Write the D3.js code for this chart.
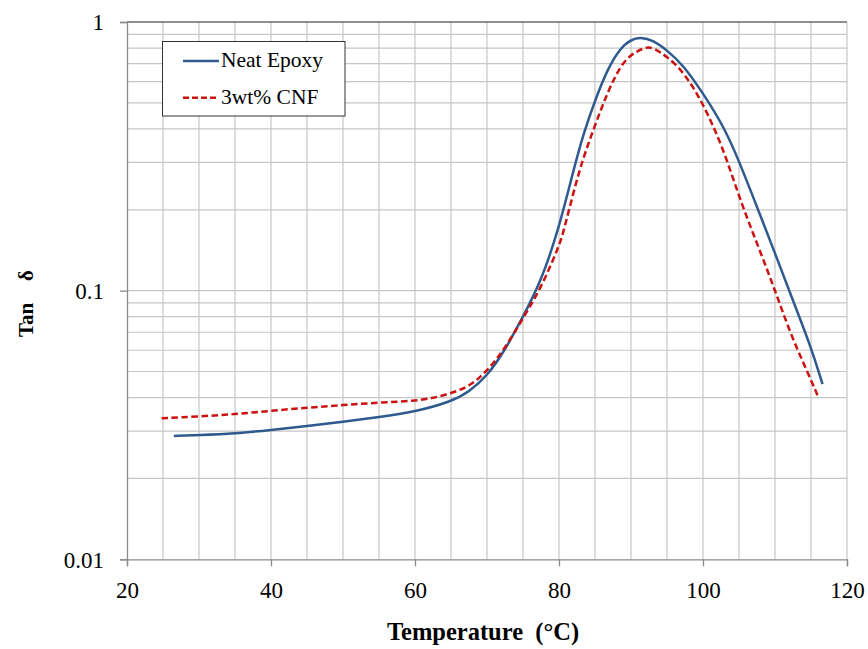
<!DOCTYPE html>
<html><head><meta charset="utf-8">
<script src="https://cdn.jsdelivr.net/npm/d3@7"></script>
<style>body{margin:0;background:#fff}svg{display:block}</style>
</head><body><svg id="c" width="868" height="649"></svg>
<script>
const neatT = [26.5, 30, 35, 40, 45, 50, 55, 60, 65, 67.5, 70, 72.5, 75, 77.5, 80, 82, 83.4, 85, 86.7, 88.5, 90, 91.3, 93.1, 95, 97.3, 100, 102.9, 105, 107.5, 110, 112.1, 115, 116.6];
const neatV = [0.0288, 0.029, 0.0294, 0.0303, 0.0313, 0.0325, 0.0338, 0.0354, 0.0386, 0.042, 0.048, 0.06, 0.08, 0.108, 0.171, 0.28, 0.385, 0.51, 0.665, 0.80, 0.86, 0.878, 0.855, 0.785, 0.69, 0.543, 0.408, 0.304, 0.205, 0.138, 0.0977, 0.0618, 0.0449];
const cnfT = [24.8, 30, 35, 40, 45, 50, 55, 60, 62.5, 65, 67.5, 70, 72.5, 75, 77.4, 80, 80.7, 82.9, 85, 86.7, 88.5, 90, 91.75, 92.4, 93.1, 95, 97.3, 100, 102.9, 105, 107.5, 110, 112.1, 115, 116.1];
const cnfV = [0.0335, 0.034, 0.0347, 0.0357, 0.0367, 0.0375, 0.0383, 0.0389, 0.0398, 0.0415, 0.0439, 0.050, 0.061, 0.079, 0.101, 0.146, 0.168, 0.29, 0.412, 0.545, 0.685, 0.758, 0.80, 0.805, 0.80, 0.745, 0.653, 0.50, 0.334, 0.223, 0.150, 0.1005, 0.0694, 0.0465, 0.0397];
const xTicks = [20, 40, 60, 80, 100, 120];
const yTicks = [0.01, 0.1, 1];
const yTickLabels = ["0.01", "0.1", "1"];
const seriesNames = ["Neat Epoxy", "3wt% CNF"];

const svg = d3.select("#c");
const L = 127, R = 847, T = 22, B = 559.3;
const x = d3.scaleLinear().domain([20, 120]).range([L, R]);
const y = d3.scaleLog().domain([0.01, 1]).range([B, T]);
const font = "'Liberation Serif','Times New Roman',serif";

// grid
const g = svg.append("g");
const xGrid = d3.range(25, 121, 5);
g.selectAll(".vg").data(xGrid).join("line")
  .attr("x1", d => x(d)).attr("x2", d => x(d)).attr("y1", T).attr("y2", B)
  .attr("stroke", "#c6c6c6").attr("stroke-width", 1.2);
const yGrid = [];
[0.01, 0.1].forEach(dec => { for (let k = 2; k <= 9; k++) yGrid.push(dec * k); });
yGrid.push(0.1);
g.selectAll(".hg").data(yGrid).join("line")
  .attr("x1", L).attr("x2", R).attr("y1", d => y(d)).attr("y2", d => y(d))
  .attr("stroke", "#c6c6c6").attr("stroke-width", 1.2);
g.append("line").attr("x1", L).attr("x2", R).attr("y1", y(1)).attr("y2", y(1)).attr("stroke", "#6a6a6a").attr("stroke-width", 1.3);

// axes
const xAxis = d3.axisBottom(x).tickValues(xTicks).tickSize(7).tickPadding(15).tickFormat(d3.format("d"));
const xa = svg.append("g").attr("transform", `translate(0,${B})`).call(xAxis);
const yAxis = d3.axisLeft(y).tickValues(yTicks).tickSize(7).tickPadding(16).tickFormat((d, i) => yTickLabels[i]);
const ya = svg.append("g").attr("transform", `translate(${L},0)`).call(yAxis);
[xa, ya].forEach(a => {
  a.attr("font-size", null).attr("font-family", null);
  a.select(".domain").attr("stroke", "#8a8a8a").attr("stroke-width", 1.3);
  a.selectAll(".tick line").attr("stroke", "#8a8a8a").attr("stroke-width", 1.3);
  a.selectAll("text").attr("font-family", font).style("font-size", "23px").attr("fill", "#000");
});
ya.selectAll("text").attr("dy", "0.34em");

// lines
const line = d3.line().x(d => x(d[0])).y(d => y(d[1])).curve(d3.curveBasis);
svg.append("path").datum(neatT.map((t, i) => [t, neatV[i]])).attr("d", line)
  .attr("fill", "none").attr("stroke", "#2E5A8E").attr("stroke-width", 2.5);
svg.append("path").datum(cnfT.map((t, i) => [t, cnfV[i]])).attr("d", line)
  .attr("fill", "none").attr("stroke", "#CC1111").attr("stroke-width", 2.5).attr("stroke-dasharray", "6.5,3.5");

// legend
svg.append("rect").attr("x", 162.5).attr("y", 41.5).attr("width", 182.5).attr("height", 74.5)
  .attr("fill", "#fff").attr("stroke", "#333").attr("stroke-width", 1);
const leg = [[61, 67, "#2E5A8E", null], [97.7, 104, "#CC1111", "6,3"]];
leg.forEach((l, i) => {
  svg.append("line").attr("x1", 183).attr("x2", 219).attr("y1", l[0]).attr("y2", l[0])
    .attr("stroke", l[2]).attr("stroke-width", 2.5).attr("stroke-dasharray", l[3]);
  svg.append("text").attr("x", 221).attr("y", l[1]).text(seriesNames[i])
    .attr("font-family", font).style("font-size", "21.5px").attr("fill", "#000");
});

// titles
svg.append("text").attr("x", 483).attr("y", 640).attr("text-anchor", "middle")
  .attr("font-family", font).style("font-size", "24.5px").attr("font-weight", "bold")
  .style("white-space", "pre").text("Temperature  (°C)");
svg.append("text").attr("transform", "translate(33,337) rotate(-90)")
  .attr("font-family", font).style("font-size", "21px").attr("font-weight", "bold").text("Tan");
svg.append("text").attr("transform", "translate(33,281) rotate(-90)")
  .attr("font-family", font).style("font-size", "21px").attr("font-weight", "bold").text("δ");
</script></body></html>
